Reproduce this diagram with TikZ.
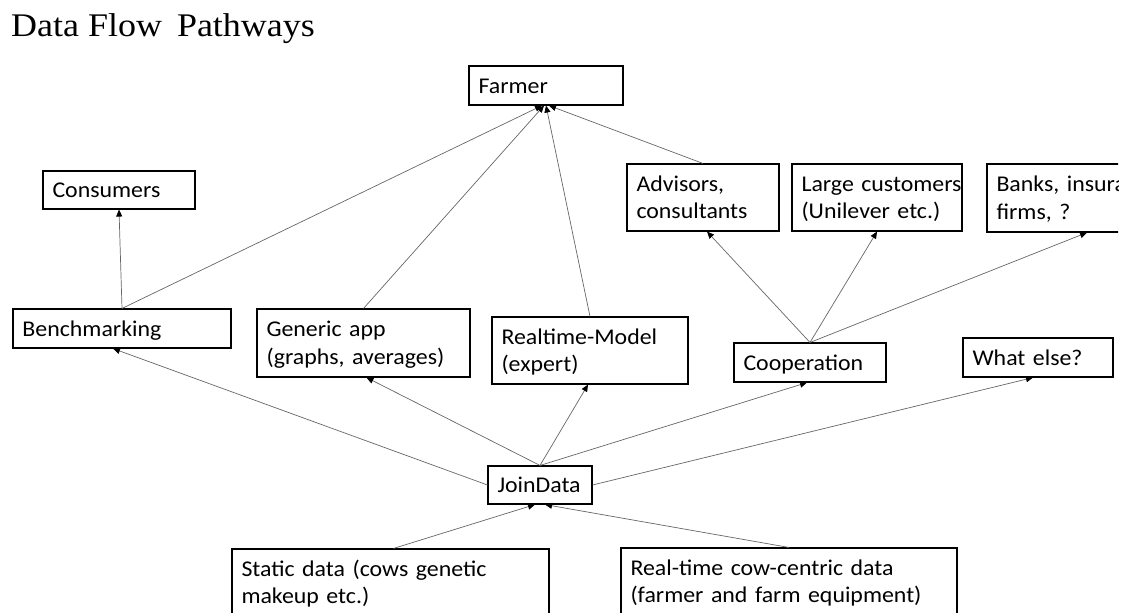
\documentclass[tikz,border=0pt]{standalone}
\usepackage{fontspec}
\setmainfont{Carlito}[FakeStretch=1.06]
\newfontfamily\titlefont{Liberation Serif}[FakeStretch=1.09]
\usetikzlibrary{arrows.meta}
\newcommand\boxstrut{\rule[-6pt]{0pt}{27pt}}
\begin{document}
\begin{tikzpicture}[x=1pt,y=-1pt,
  box/.style={draw=black, line width=1.1pt, fill=white, inner xsep=9.5pt, inner ysep=0pt,
    align=left, font=\fontsize{22.5}{27.5}\selectfont,
    execute at begin node=\boxstrut, execute at end node=\boxstrut},
  conn/.style={draw=black!60, line width=0.7pt,
    -{Triangle[length=7pt,width=6pt,color=black]}}]
\useasboundingbox (0,0) rectangle (1136,613);
\clip (0,0) rectangle (1118,613);
\node[anchor=base west, inner sep=0pt, font=\titlefont\fontsize{33}{38}\selectfont] (title) at (11,36) {Data Flow \hspace{6pt}Pathways};

\node[box, minimum width=154pt, minimum height=39pt, text width=135pt] (farmer) at (546,85.5) {Farmer};
\node[box, minimum width=152pt, minimum height=38pt, text width=133pt] (consumers) at (119,190) {Consumers};
\node[box, minimum width=218pt, minimum height=39pt, text width=199pt] (bench) at (122,328.5) {Benchmarking};
\node[box, minimum width=213pt, minimum height=68pt, text width=194pt] (generic) at (363.5,343) {\mbox{Generic app}\\\mbox{(graphs, averages)}};
\node[box, minimum width=196pt, minimum height=67pt, text width=177pt] (realtime) at (590,350.5) {\mbox{Realtime-Model}\\\mbox{(expert)}};
\node[box, minimum width=152pt, minimum height=67pt, text width=133pt] (advisors) at (703,197.5) {\mbox{Advisors,}\\\mbox{consultants}};
\node[box, minimum width=170pt, minimum height=67pt, text width=151pt] (large) at (877,197.5) {\mbox{Large customers}\\\mbox{(Unilever etc.)}};
\node[box, minimum width=200pt, minimum height=68pt, text width=181pt] (banks) at (1087,198) {\mbox{Banks, insura}\\\mbox{firms, ?}};
\node[box, minimum width=152pt, minimum height=39pt, text width=133pt] (coop) at (810,362.5) {Cooperation};
\node[box, minimum width=150pt, minimum height=39pt, text width=131pt] (whatelse) at (1038,357.5) {What else?};
\node[box, minimum width=104pt, minimum height=38pt, text width=85pt] (join) at (540,485) {JoinData};
\node[box, minimum width=317pt, minimum height=67pt, text width=298pt] (static) at (390.5,582.5) {\mbox{Static data (cows genetic}\\\mbox{makeup etc.)}};
\node[box, minimum width=336pt, minimum height=67pt, text width=317pt] (rt) at (789,581.5) {\mbox{Real-time cow-centric data}\\\mbox{(farmer and farm equipment)}};

% to Farmer
\draw[conn] (bench.north) -- ([xshift=-4pt]farmer.south);
\draw[conn] (generic.north) -- ([xshift=-2pt]farmer.south);
\draw[conn] (realtime.north) -- (farmer.south);
\draw[conn] (advisors.north) -- ([xshift=3pt]farmer.south);
% Benchmarking to Consumers
\draw[conn] (bench.north) -- (consumers.south);
% Cooperation outputs
\draw[conn] (coop.north) -- ([xshift=4pt]advisors.south);
\draw[conn] (coop.north) -- (large.south);
\draw[conn] (coop.north) -- (banks.south);
% JoinData outputs
\draw[conn] (join.west) -- ([xshift=-9pt]bench.south);
\draw[conn] (join.north) -- ([xshift=3pt]generic.south);
\draw[conn] (join.north) -- ([xshift=-2pt]realtime.south);
\draw[conn] (join.north) -- ([xshift=-3pt]coop.south);
\draw[conn] (join.east) -- ([xshift=-5pt]whatelse.south);
% inputs to JoinData
\draw[conn] ([xshift=3pt]static.north) -- ([xshift=-5pt]join.south);
\draw[conn] (rt.north) -- ([xshift=5pt]join.south);
\end{tikzpicture}
\end{document}
